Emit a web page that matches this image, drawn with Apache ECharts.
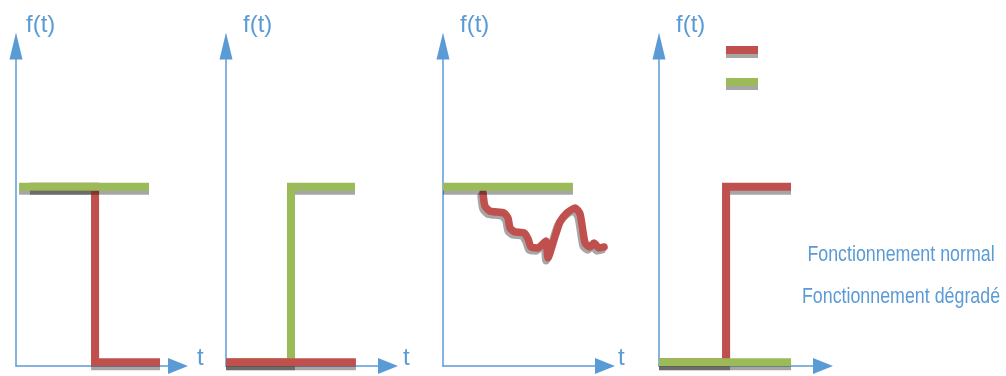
<!DOCTYPE html>
<html>
<head>
<meta charset="utf-8">
<script src="https://cdn.jsdelivr.net/npm/echarts@6/dist/echarts.min.js"></script>
<style>
html, body { margin: 0; padding: 0; background: #fff; }
#J_chart { width: 1006px; height: 376px; }
</style>
</head>
<body>
<div id="J_chart"></div>
<script>
'use strict';

// x: 0..100 along each t axis, y: 0..100 along each f(t) axis
var LEVEL = 56;
var FLOOR = 1.2;

var redP1 = [[8.6, LEVEL], [48.8, LEVEL], [48.8, FLOOR], [88.9, FLOOR]];
var greenP1 = [[1.9, LEVEL], [82.1, LEVEL]];

var greenP2 = [[0, FLOOR], [40.1, FLOOR], [40.1, LEVEL], [79.6, LEVEL]];
var redP2 = [[0, FLOOR], [80.2, FLOOR]];

var greenP3 = [[0, LEVEL], [80.2, LEVEL]];
var redP3 = [
  [24.7, 54.1], [25.9, 50.0], [29.0, 48.4], [37.7, 47.8], [40.1, 46.3],
  [41.4, 43.1], [44.4, 41.9], [50.0, 41.6], [52.5, 39.7], [54.3, 37.2],
  [58.6, 36.9], [63.6, 39.1], [64.8, 33.8], [68.5, 39.4], [72.2, 45.0],
  [76.5, 47.8], [81.5, 49.4], [84.6, 47.5], [87.7, 38.4], [90.7, 37.2],
  [93.2, 38.4], [96.3, 36.9], [99.4, 37.2]
];

var redP4 = [[0, FLOOR], [40.9, FLOOR], [40.9, LEVEL], [80.5, LEVEL]];
var greenP4 = [[0, FLOOR], [80.5, FLOOR]];

var legendNames = ['Fonctionnement dégradé', 'Fonctionnement normal'];
var noteTexts = ['Fonctionnement normal', 'Fonctionnement dégradé'];

var RED = '#c0504d';
var GREEN = '#9bbb59';
var BLUE = '#5b9bd5';
var SHADOW = 'rgba(0,0,0,0.35)';
var FONT = "'Liberation Sans', Arial, sans-serif";

var panels = [
  {left: 16, width: 162, tGap: 19, fPad: 10, tName: 't'},
  {left: 226, width: 162, tGap: 15, fPad: 17, tName: 't'},
  {left: 443, width: 162, tGap: 13, fPad: 17, tName: 't'},
  {left: 659, width: 164, tGap: 13, fPad: 17, tName: ''}
];

function lineSeries(name, data, idx, z, color, smooth) {
  return {
    name: name,
    type: 'line',
    xAxisIndex: idx,
    yAxisIndex: idx,
    data: data,
    symbol: 'none',
    smooth: smooth || false,
    clip: false,
    silent: true,
    z: z,
    itemStyle: {color: color},
    lineStyle: {
      color: color,
      width: smooth ? 7.5 : 8,
      cap: smooth ? 'round' : 'butt',
      join: smooth ? 'round' : 'miter',
      shadowColor: SHADOW,
      shadowBlur: 0,
      shadowOffsetX: smooth ? -2 : 0,
      shadowOffsetY: smooth ? 3 : 4
    }
  };
}

var chart = echarts.init(document.getElementById('J_chart'), null, {renderer: 'canvas'});

var grids = [], xAxes = [], yAxes = [];
panels.forEach(function (p, i) {
  grids.push({left: p.left, width: p.width, top: 46, bottom: 10, outerBoundsMode: 'none'});
  xAxes.push({
    type: 'value', gridIndex: i, min: 0, max: 100,
    name: p.tName, nameLocation: 'end', nameGap: p.tGap,
    nameTextStyle: {color: BLUE, fontSize: 24, fontFamily: FONT, verticalAlign: 'bottom', lineHeight: 16},
    axisLine: {onZero: false, symbol: ['none', 'triangle'], symbolSize: [16, 20],
      lineStyle: {color: BLUE, width: 1.5}},
    axisTick: {show: false}, axisLabel: {show: false}, splitLine: {show: false}
  });
  yAxes.push({
    type: 'value', gridIndex: i, min: 0, max: 100,
    name: 'f(t)', nameLocation: 'end', nameGap: 9,
    nameTextStyle: {color: BLUE, fontSize: 24, fontFamily: FONT, align: 'left', padding: [0, 0, 0, p.fPad]},
    axisLine: {onZero: false, symbol: ['none', 'triangle'], symbolSize: [13, 27],
      lineStyle: {color: BLUE, width: 1.5}},
    axisTick: {show: false}, axisLabel: {show: false}, splitLine: {show: false}
  });
});

var option = {
  animation: false,
  backgroundColor: '#fff',
  grid: grids,
  xAxis: xAxes,
  yAxis: yAxes,
  legend: {
    data: legendNames,
    orient: 'vertical',
    left: 726,
    top: 46,
    padding: 0,
    icon: 'rect',
    itemWidth: 32,
    itemHeight: 8,
    itemGap: 24,
    selectedMode: false,
    formatter: function () { return ''; },
    textStyle: {fontSize: 8, lineHeight: 8},
    itemStyle: {borderWidth: 0, shadowColor: SHADOW, shadowBlur: 0, shadowOffsetY: 4}
  },
  graphic: [
    {type: 'text', x: 901, y: 255, scaleX: 0.81, style: {text: noteTexts[0], fill: BLUE, font: '22px ' + FONT, align: 'center', verticalAlign: 'middle'}},
    {type: 'text', x: 901, y: 297, scaleX: 0.81, style: {text: noteTexts[1], fill: BLUE, font: '22px ' + FONT, align: 'center', verticalAlign: 'middle'}}
  ],
  series: [
    lineSeries(legendNames[0], redP1, 0, 2, RED),
    lineSeries(legendNames[1], greenP1, 0, 3, GREEN),
    lineSeries(legendNames[1], greenP2, 1, 2, GREEN),
    lineSeries(legendNames[0], redP2, 1, 3, RED),
    lineSeries(legendNames[0], redP3, 2, 2, RED, 0.2),
    lineSeries(legendNames[1], greenP3, 2, 3, GREEN),
    lineSeries(legendNames[0], redP4, 3, 2, RED),
    lineSeries(legendNames[1], greenP4, 3, 3, GREEN)
  ]
};
chart.setOption(option);
</script>
</body>
</html>
